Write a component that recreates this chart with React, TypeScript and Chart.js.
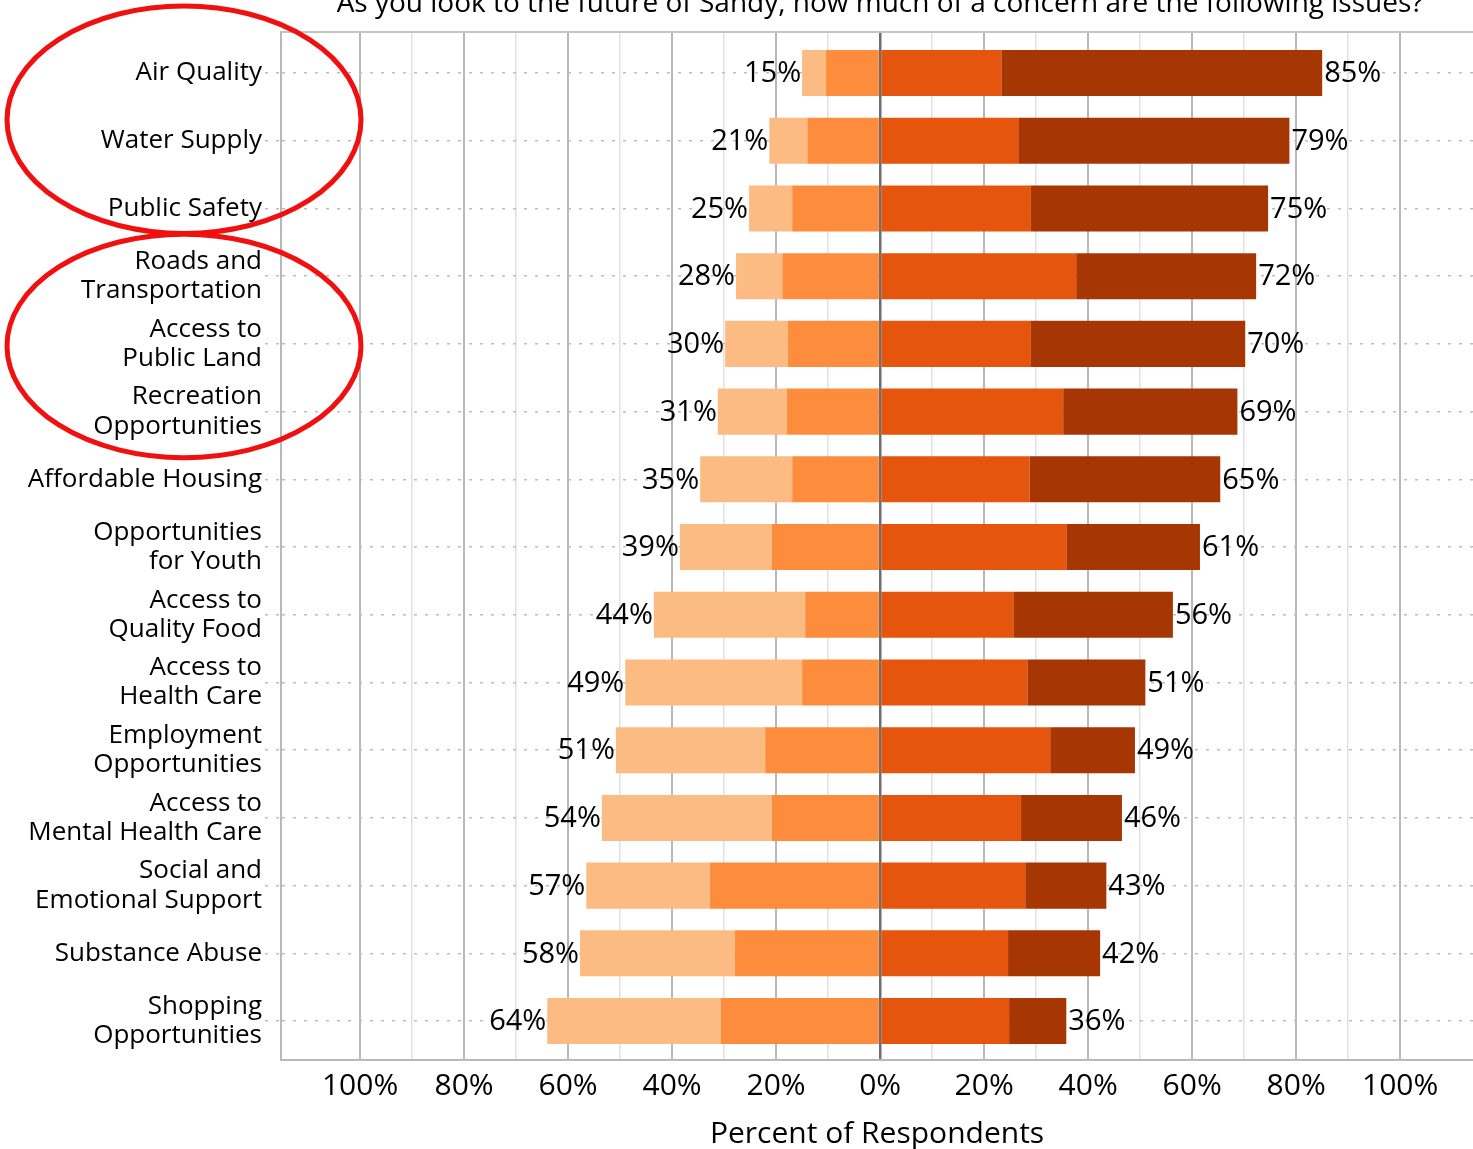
import React, { useEffect, useRef } from "react";
import { Chart, registerables } from "chart.js";

Chart.register(...registerables);

const TITLE = "As you look to the future of Sandy, how much of a concern are the following issues?";
const AXIS_TITLE = "Percent of Respondents";

const categories: string[][] = [
  ["Air Quality"],
  ["Water Supply"],
  ["Public Safety"],
  ["Roads and", "Transportation"],
  ["Access to", "Public Land"],
  ["Recreation", "Opportunities"],
  ["Affordable Housing"],
  ["Opportunities", "for Youth"],
  ["Access to", "Quality Food"],
  ["Access to", "Health Care"],
  ["Employment", "Opportunities"],
  ["Access to", "Mental Health Care"],
  ["Social and", "Emotional Support"],
  ["Substance Abuse"],
  ["Shopping", "Opportunities"],
];

// left side (shown as negative), from zero outward
const minorConcern = [10.4, 14.0, 16.9, 18.8, 17.7, 17.9, 16.9, 20.8, 14.4, 15.0, 22.1, 20.8, 32.7, 27.9, 30.6];
const notAConcern = [4.6, 7.3, 8.3, 8.9, 12.1, 13.3, 17.7, 17.7, 29.1, 34.0, 28.7, 32.7, 23.8, 29.8, 33.4];
// right side, from zero outward
const moderateConcern = [23.3, 26.7, 29.0, 37.7, 29.0, 35.2, 28.7, 35.8, 25.6, 28.3, 32.7, 27.1, 27.9, 24.6, 24.8];
const majorConcern = [61.7, 52.0, 45.6, 34.6, 41.2, 33.5, 36.7, 25.7, 30.7, 22.7, 16.3, 19.4, 15.6, 17.7, 11.0];

const leftLabels = ["15%", "21%", "25%", "28%", "30%", "31%", "35%", "39%", "44%", "49%", "51%", "54%", "57%", "58%", "64%"];
const rightLabels = ["85%", "79%", "75%", "72%", "70%", "69%", "65%", "61%", "56%", "51%", "49%", "46%", "43%", "42%", "36%"];

const xTickValues = [-100, -90, -80, -70, -60, -50, -40, -30, -20, -10, 0, 10, 20, 30, 40, 50, 60, 70, 80, 90, 100];

// red highlight ellipses (annotation): centre and vertical radius in category units
const highlightCenters = [0.69, 4.03];
const highlightRadiusCats = [1.68, 1.65];

const FONT = "'Open Sans', 'DejaVu Sans', sans-serif";
const TEXT = "#000";

const extrasPlugin = {
  id: "extras",
  beforeDatasetsDraw(chart: any) {
    const { ctx, chartArea } = chart;
    ctx.save();
    ctx.strokeStyle = "#c4c4c4";
    ctx.lineWidth = 2;
    ctx.beginPath();
    ctx.moveTo(chartArea.left, chartArea.top);
    ctx.lineTo(chartArea.right, chartArea.top);
    ctx.stroke();
    ctx.restore();
  },
  afterDatasetsDraw(chart: any) {
    const { ctx } = chart;
    const leftMeta = chart.getDatasetMeta(1);
    const rightMeta = chart.getDatasetMeta(3);
    ctx.save();
    ctx.font = `29px ${FONT}`;
    ctx.fillStyle = TEXT;
    ctx.textBaseline = "middle";
    leftMeta.data.forEach((el: any, i: number) => {
      ctx.textAlign = "right";
      ctx.fillText(leftLabels[i], el.x - 1, el.y + 1);
    });
    rightMeta.data.forEach((el: any, i: number) => {
      ctx.textAlign = "left";
      ctx.fillText(rightLabels[i], el.x + 2, el.y + 1);
    });
    ctx.restore();
  },
  afterDraw(chart: any) {
    const { ctx, chartArea, scales } = chart;
    ctx.save();
    // title, partially cut at the top edge
    ctx.font = `28px ${FONT}`;
    ctx.fillStyle = TEXT;
    ctx.textAlign = "center";
    ctx.textBaseline = "alphabetic";
    ctx.fillText(TITLE, (chartArea.left + chartArea.right) / 2 + 3, 12);
    // ellipses
    const y = scales.y;
    const step = Math.abs(y.getPixelForValue(1) - y.getPixelForValue(0));
    ctx.strokeStyle = "#f01010";
    ctx.lineWidth = 5;
    highlightCenters.forEach((c, k) => {
      const cy = y.getPixelForValue(c);
      ctx.beginPath();
      ctx.ellipse(chartArea.left - 97, cy, 177, highlightRadiusCats[k] * step, 0, 0, Math.PI * 2);
      ctx.stroke();
    });
    ctx.restore();
  },
};

export default function App() {
  const ref = useRef<HTMLCanvasElement | null>(null);
  useEffect(() => {
    if (!ref.current) return;
    const idx = categories.map((_, i) => i);
    const chart = new Chart(ref.current, {
      type: "bar",
      data: {
        datasets: [
          { label: "Minor concern", data: idx.map((i) => ({ x: -minorConcern[i], y: i })), backgroundColor: "#FD8D3C" },
          { label: "Not a concern", data: idx.map((i) => ({ x: -notAConcern[i], y: i })), backgroundColor: "#FDBB84" },
          { label: "Moderate concern", data: idx.map((i) => ({ x: moderateConcern[i], y: i })), backgroundColor: "#E6550D" },
          { label: "Major concern", data: idx.map((i) => ({ x: majorConcern[i], y: i })), backgroundColor: "#A63603" },
        ],
      },
      options: {
        indexAxis: "y",
        animation: false,
        responsive: true,
        maintainAspectRatio: false,
        layout: { padding: { top: 30, right: 0, left: 0, bottom: 0 } },
        datasets: { bar: { barPercentage: 0.68, categoryPercentage: 1, borderWidth: 0 } },
        plugins: { legend: { display: false }, tooltip: { enabled: false }, title: { display: false } },
        scales: {
          x: {
            type: "linear",
            stacked: true,
            min: -115.2,
            max: 114,
            afterBuildTicks: (scale: any) => {
              scale.ticks = xTickValues.map((v) => ({ value: v }));
            },
            afterFit: (scale: any) => {
              scale.height = 89;
            },
            ticks: {
              autoSkip: false,
              maxRotation: 0,
              padding: 8,
              color: TEXT,
              font: { family: FONT, size: 30 },
              callback: (v: any) => (Math.abs(v) % 20 === 0 ? Math.abs(v) + "%" : ""),
            },
            grid: {
              drawTicks: false,
              color: (c: any) => {
                const v = c.tick ? c.tick.value : 0;
                if (v === 0) return "#6e6e6e";
                return Math.abs(v) % 20 === 0 ? "#b8b8b8" : "#e0e0e0";
              },
              lineWidth: (c: any) => {
                const v = c.tick ? c.tick.value : 0;
                if (v === 0) return 2.5;
                return Math.abs(v) % 20 === 0 ? 2 : 1.5;
              },
            },
            border: { display: true, color: "#b8b8b8", width: 2 },
            title: {
              display: true,
              text: AXIS_TITLE,
              color: TEXT,
              font: { family: FONT, size: 30, lineHeight: 1 },
              padding: { top: 0, bottom: 0 },
            },
          },
          y: {
            type: "linear",
            stacked: true,
            reverse: true,
            offset: false,
            min: -0.604,
            max: 14.575,
            afterBuildTicks: (scale: any) => {
              scale.ticks = categories.map((_, i) => ({ value: i }));
            },
            afterFit: (scale: any) => {
              scale.width = 281;
            },
            ticks: {
              autoSkip: false,
              padding: 3,
              color: TEXT,
              font: { family: FONT, size: 26, lineHeight: 1.12 },
              callback: (v: any) => categories[v] ?? "",
            },
            grid: {
              offset: false,
              color: "#bdbdbd",
              lineWidth: 1.5,
              tickBorderDash: [3, 8],
              tickLength: 16,
              drawTicks: true,
            },
            border: { display: true, color: "#b8b8b8", width: 2, dash: [3, 8] },
          },
        },
      } as any,
      plugins: [extrasPlugin],
    });
    return () => chart.destroy();
  }, []);
  return (
    <div style={{ position: "absolute", left: 0, top: 0, width: 1473, height: 1149, background: "#fff" }}>
      <canvas ref={ref} />
    </div>
  );
}
